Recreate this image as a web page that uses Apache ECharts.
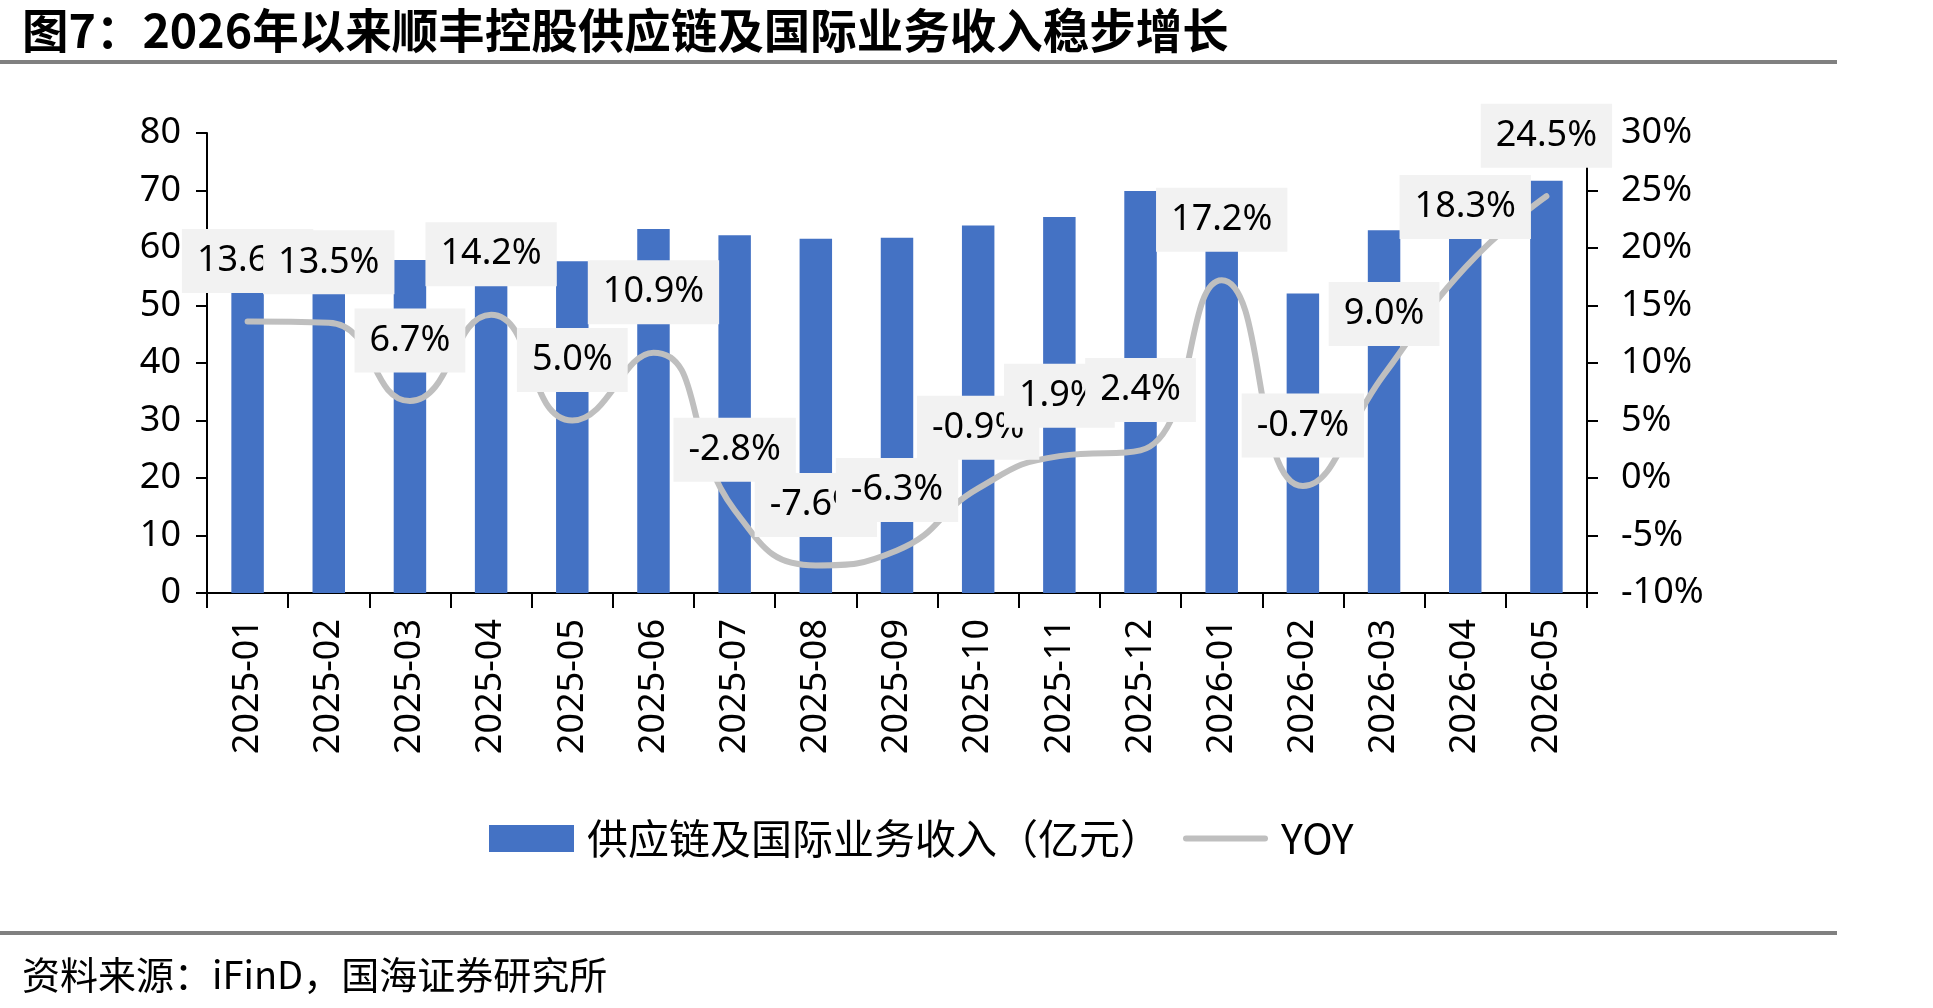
<!DOCTYPE html>
<html>
<head>
<meta charset="utf-8">
<script src="https://cdn.jsdelivr.net/npm/echarts@6/dist/echarts.min.js"></script>
<style>
  html, body { margin: 0; padding: 0; background: #fff; }
  #chart { width: 1933px; height: 1008px; }
</style>
</head>
<body>
<div id="chart"></div>
<script>
  // 月份
  let months = ['2025-01', '2025-02', '2025-03', '2025-04', '2025-05', '2025-06', '2025-07', '2025-08', '2025-09',
    '2025-10', '2025-11', '2025-12', '2026-01', '2026-02', '2026-03', '2026-04', '2026-05']
  // 供应链及国际业务收入（亿元）
  let revenue = [52.8, 52.5, 57.9, 53.8, 57.7, 63.3, 62.2, 61.6, 61.8, 63.9, 65.4, 69.9, 59.8, 52.1, 63.1, 63.5, 71.7]
  // 同比 %
  let yoy = [13.6, 13.5, 6.7, 14.2, 5.0, 10.9, -2.8, -7.6, -6.3, -0.9, 1.9, 2.4, 17.2, -0.7, 9.0, 18.3, 24.5]

  let barName = '供应链及国际业务收入（亿元）'
  let lineName = 'YOY'
  let numFont = '"Noto Sans", sans-serif'
  let cjkFont = '"Noto Sans CJK SC", sans-serif'

  let chart = echarts.init(document.getElementById('chart'))
  let option = {
    backgroundColor: '#fff',
    animation: false,
    grid: {
      left: 207,
      right: 346,
      top: 133,
      bottom: 415,
      containLabel: false
    },
    legend: {
      left: 484,
      top: 813,
      itemWidth: 85,
      itemHeight: 27,
      itemGap: 22,
      textStyle: {
        fontFamily: cjkFont,
        fontSize: 41,
        color: '#000',
        padding: [0, 0, 0, 8]
      },
      data: [
        {name: barName, icon: 'rect'},
        {name: lineName, icon: 'path://M3,0 L82,0 A3,3 0 0 1 82,6 L3,6 A3,3 0 0 1 3,0 Z', itemStyle: {color: '#bfbfbf'}}
      ]
    },
    graphic: [
      {
        type: 'text',
        left: 22,
        top: 7,
        style: {
          text: '图7：2026年以来顺丰控股供应链及国际业务收入稳步增长',
          font: 'bold 46.5px "Noto Sans CJK SC", sans-serif',
          fill: '#000'
        }
      },
      {
        type: 'line',
        shape: {x1: 0, y1: 62, x2: 1837, y2: 62},
        style: {stroke: '#808080', lineWidth: 4}
      },
      {
        type: 'line',
        shape: {x1: 0, y1: 933, x2: 1837, y2: 933},
        style: {stroke: '#808080', lineWidth: 4}
      },
      {
        type: 'text',
        left: 22,
        top: 956,
        style: {
          text: '资料来源：iFinD，国海证券研究所',
          font: '38px "Noto Sans CJK SC", sans-serif',
          fill: '#000'
        }
      }
    ],
    xAxis: [
      {
        type: 'category',
        data: months,
        boundaryGap: true,
        axisLine: {
          show: true,
          lineStyle: {color: '#000', width: 2}
        },
        axisTick: {
          show: true,
          length: 15,
          lineStyle: {color: '#000', width: 2}
        },
        axisLabel: {
          rotate: 90,
          margin: 26,
          color: '#000',
          fontFamily: numFont,
          fontSize: 36,
          interval: 0
        }
      }
    ],
    yAxis: [
      {
        type: 'value',
        min: 0,
        max: 80,
        interval: 10,
        axisLine: {
          show: true,
          onZero: false,
          lineStyle: {color: '#000', width: 2}
        },
        axisTick: {
          show: true,
          length: 11,
          lineStyle: {color: '#000', width: 2}
        },
        axisLabel: {
          margin: 26,
          color: '#000',
          fontFamily: numFont,
          fontSize: 36
        },
        splitLine: {show: false}
      },
      {
        type: 'value',
        min: -10,
        max: 30,
        interval: 5,
        position: 'right',
        axisLine: {
          show: true,
          onZero: false,
          lineStyle: {color: '#000', width: 2}
        },
        axisTick: {
          show: true,
          length: 11,
          lineStyle: {color: '#000', width: 2}
        },
        axisLabel: {
          margin: 34,
          color: '#000',
          fontFamily: numFont,
          fontSize: 36,
          formatter: '{value}%'
        },
        splitLine: {show: false}
      }
    ],
    series: [
      {
        name: barName,
        type: 'bar',
        data: revenue,
        barWidth: '40%',
        itemStyle: {color: '#4472c4'}
      },
      {
        name: lineName,
        type: 'line',
        yAxisIndex: 1,
        data: yoy,
        smooth: 0.5,
        symbol: 'circle',
        symbolSize: 1,
        showSymbol: true,
        lineStyle: {color: '#bfbfbf', width: 6, cap: 'round'},
        itemStyle: {color: '#bfbfbf'},
        label: {
          show: true,
          position: 'top',
          distance: 28,
          color: '#000',
          fontFamily: numFont,
          fontSize: 36,
          lineHeight: 44,
          backgroundColor: '#f2f2f2',
          padding: [10, 15],
          formatter: function (p) {
            return p.value.toFixed(1) + '%'
          }
        },
        labelLayout: {hideOverlap: false},
        z: 3
      }
    ]
  }
  chart.setOption(option)
</script>
</body>
</html>
